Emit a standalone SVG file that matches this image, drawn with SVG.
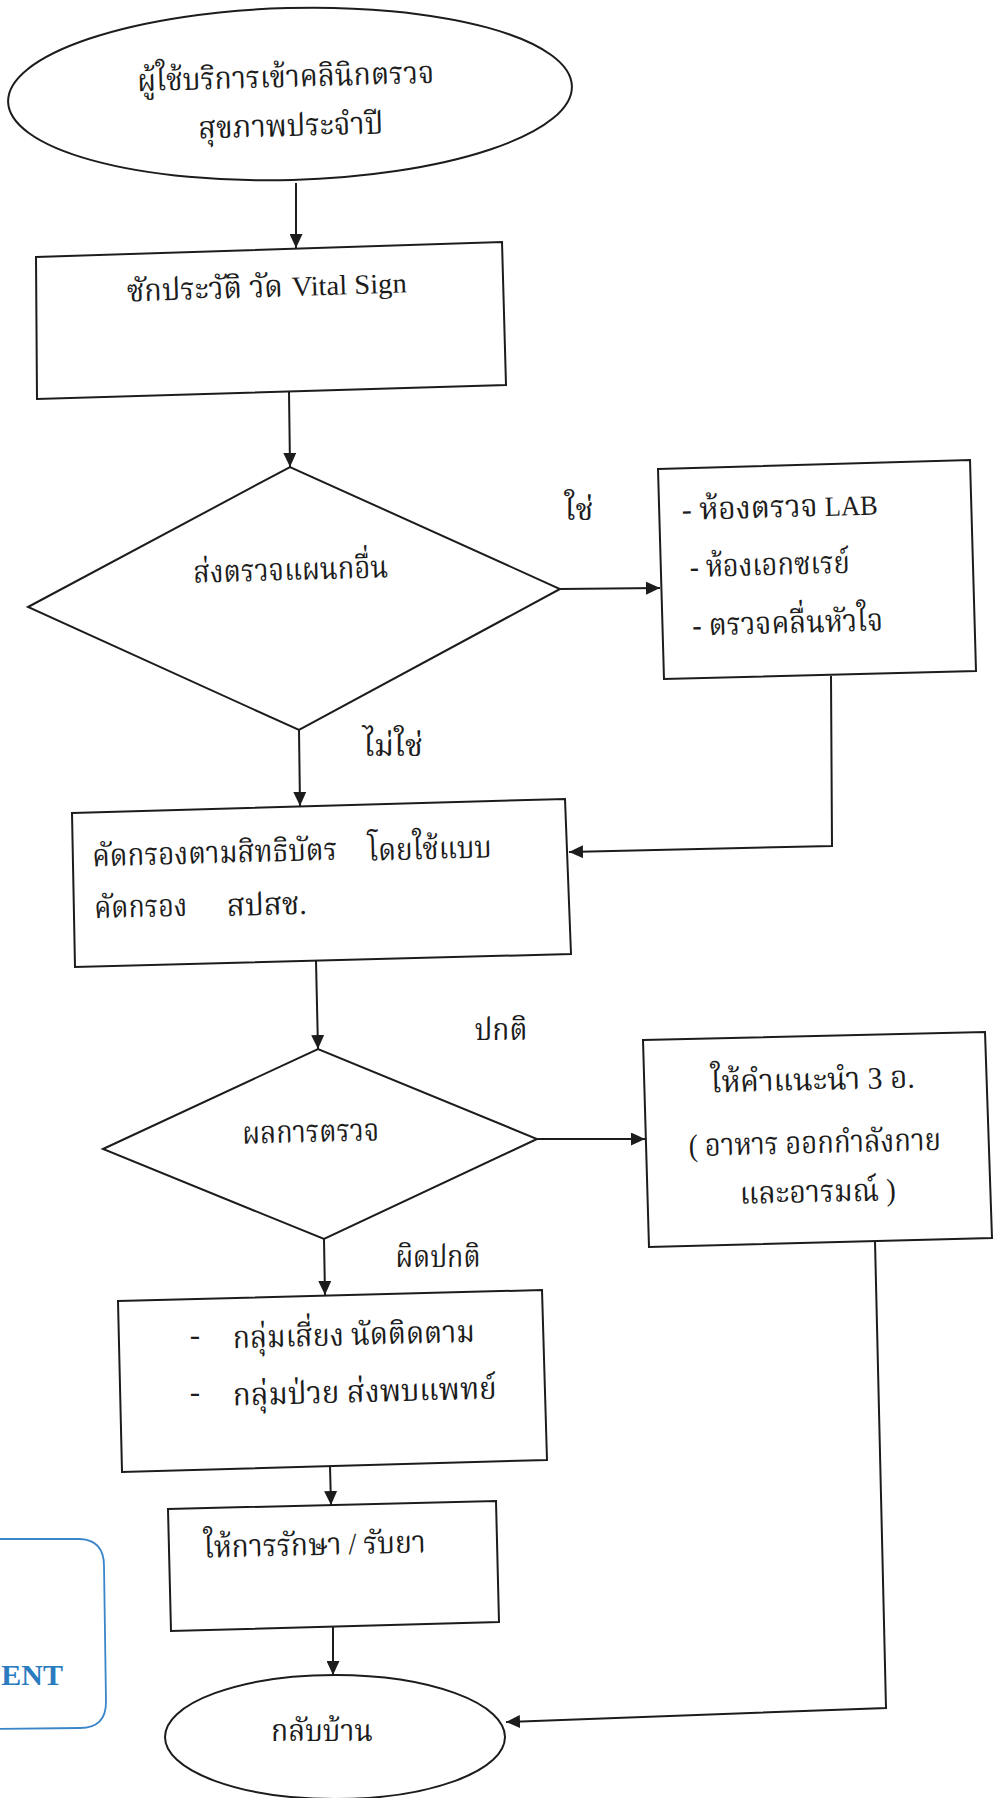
<svg xmlns="http://www.w3.org/2000/svg" width="1000" height="1798" viewBox="0 0 1000 1798">
<defs>
<style>
.n{fill:#fff;stroke:#1c1c1c;stroke-width:2}
.c{fill:none;stroke:#1c1c1c;stroke-width:2}
.t{font-family:"Liberation Serif","Norasi","Kinnari","Noto Serif Thai","Noto Sans Thai","Loma","Garuda",serif;font-size:31px;fill:#1c1c1c;text-anchor:middle}
.l{font-family:"Liberation Serif",serif;font-size:28px;fill:#1c1c1c}
.st{fill:none;stroke:#3a86c8;stroke-width:1.8}
.stt{font-family:"Liberation Serif",serif;font-weight:bold;font-size:30px;fill:#2b7bc0}
</style>
<marker id="ah" viewBox="0 0 14 13" markerWidth="14" markerHeight="13" refX="14" refY="6.5" orient="auto" markerUnits="userSpaceOnUse">
<path d="M0,0 L14,6.5 L0,13 z" fill="#1c1c1c"/>
</marker>
</defs>
<rect x="0" y="0" width="1000" height="1798" fill="#fff"/>

<g id="connectors">
<line class="c" x1="296" y1="183" x2="296" y2="248" marker-end="url(#ah)"/>
<line class="c" x1="289" y1="392" x2="290" y2="467" marker-end="url(#ah)"/>
<line class="c" x1="560" y1="589" x2="660" y2="588" marker-end="url(#ah)"/>
<polyline class="c" points="831,676 832,846 569,852" marker-end="url(#ah)"/>
<line class="c" x1="299" y1="730" x2="300" y2="806" marker-end="url(#ah)"/>
<line class="c" x1="316" y1="961" x2="318" y2="1049" marker-end="url(#ah)"/>
<line class="c" x1="537" y1="1139" x2="645" y2="1139" marker-end="url(#ah)"/>
<polyline class="c" points="875,1241 886,1708 506,1722" marker-end="url(#ah)"/>
<line class="c" x1="324" y1="1239" x2="325" y2="1295" marker-end="url(#ah)"/>
<line class="c" x1="330" y1="1466" x2="331" y2="1505" marker-end="url(#ah)"/>
<line class="c" x1="333" y1="1627" x2="333" y2="1675" marker-end="url(#ah)"/>
</g>

<g id="start">
<ellipse class="n" cx="290" cy="94" rx="282" ry="86" transform="rotate(-1.6 290 94)"/>
<text class="t" x="286" y="87" textLength="297" lengthAdjust="spacingAndGlyphs" transform="rotate(-1.6 286 87)">ผู้ใช้บริการเข้าคลินิกตรวจ</text>
<text class="t" x="291" y="136" textLength="185" lengthAdjust="spacingAndGlyphs" transform="rotate(-1.6 291 136)">สุขภาพประจำปี</text>
</g>

<g id="history">
<polygon class="n" points="36,257 502,242 506,385 37,399"/>
<text class="t" x="205" y="299" textLength="156" lengthAdjust="spacingAndGlyphs" transform="rotate(-1.8 205 299)">ซักประวัติ วัด</text>
<text class="l" x="292" y="296" textLength="115" lengthAdjust="spacingAndGlyphs" transform="rotate(-1.8 292 296)">Vital Sign</text>
</g>

<g id="refer">
<polygon class="n" points="28,607 290,467 560,589 299,730"/>
<text class="t" x="291" y="580" textLength="195" lengthAdjust="spacingAndGlyphs" transform="rotate(-1.6 291 580)">ส่งตรวจแผนกอื่น</text>
</g>

<g id="label-yes">
<text class="t" x="579" y="520">ใช่</text>
</g>
<g id="label-no">
<text class="t" x="393" y="756">ไม่ใช่</text>
</g>

<g id="depts">
<polygon class="n" points="658,469 970,460 976,671 664,679"/>
<text class="t" x="750" y="518" textLength="136" lengthAdjust="spacingAndGlyphs" transform="rotate(-1.6 750 518)">-  ห้องตรวจ</text>
<text class="l" x="825" y="516" textLength="53" lengthAdjust="spacingAndGlyphs" transform="rotate(-1.6 825 516)">LAB</text>
<text class="t" x="770" y="575" textLength="160" lengthAdjust="spacingAndGlyphs" transform="rotate(-1.6 770 575)">- ห้องเอกซเรย์</text>
<text class="t" x="788" y="633" textLength="191" lengthAdjust="spacingAndGlyphs" transform="rotate(-1.6 788 633)">- ตรวจคลื่นหัวใจ</text>
</g>

<g id="screen">
<polygon class="n" points="72,813 565,799 571,954 75,967"/>
<text class="t" x="215" y="863" textLength="245" lengthAdjust="spacingAndGlyphs" transform="rotate(-1.6 215 863)">คัดกรองตามสิทธิบัตร</text>
<text class="t" x="430" y="859" textLength="124" lengthAdjust="spacingAndGlyphs" transform="rotate(-1.6 430 859)">โดยใช้แบบ</text>
<text class="t" x="141" y="917" textLength="93" lengthAdjust="spacingAndGlyphs" transform="rotate(-1.6 141 917)">คัดกรอง</text>
<text class="t" x="267" y="915" textLength="80" lengthAdjust="spacingAndGlyphs" transform="rotate(-1.6 267 915)">สปสช.</text>
</g>

<g id="result">
<polygon class="n" points="103,1149 318,1049 537,1139 324,1239"/>
<text class="t" x="311" y="1142" textLength="137" lengthAdjust="spacingAndGlyphs" transform="rotate(-1.4 311 1142)">ผลการตรวจ</text>
</g>

<g id="label-normal">
<text class="t" x="501" y="1040" textLength="53" lengthAdjust="spacingAndGlyphs">ปกติ</text>
</g>
<g id="label-abnormal">
<text class="t" x="438" y="1267" textLength="85" lengthAdjust="spacingAndGlyphs">ผิดปกติ</text>
</g>

<g id="advice">
<polygon class="n" points="643,1040 985,1032 992,1238 649,1247"/>
<text class="t" x="813" y="1090" textLength="204" lengthAdjust="spacingAndGlyphs" transform="rotate(-1.4 813 1090)">ให้คำแนะนำ 3 อ.</text>
<text class="t" x="815" y="1153" textLength="252" lengthAdjust="spacingAndGlyphs" transform="rotate(-1.4 815 1153)">( อาหาร ออกกำลังกาย</text>
<text class="t" x="818" y="1202" textLength="156" lengthAdjust="spacingAndGlyphs" transform="rotate(-1.4 818 1202)">และอารมณ์ )</text>
</g>

<g id="groups">
<polygon class="n" points="118,1301 542,1290 547,1460 122,1472"/>
<text class="t" x="195" y="1345">-</text>
<text class="t" x="354" y="1345" textLength="242" lengthAdjust="spacingAndGlyphs" transform="rotate(-1.5 354 1345)">กลุ่มเสี่ยง นัดติดตาม</text>
<text class="t" x="195" y="1402">-</text>
<text class="t" x="365" y="1402" textLength="264" lengthAdjust="spacingAndGlyphs" transform="rotate(-1.5 365 1402)">กลุ่มป่วย ส่งพบแพทย์</text>
</g>

<g id="treat">
<polygon class="n" points="168,1509 496,1501 499,1622 171,1631"/>
<text class="t" x="315" y="1555" textLength="222" lengthAdjust="spacingAndGlyphs" transform="rotate(-1.4 315 1555)">ให้การรักษา / รับยา</text>
</g>

<g id="home">
<ellipse class="n" cx="335" cy="1737" rx="170" ry="62"/>
<text class="t" x="322" y="1741" textLength="102" lengthAdjust="spacingAndGlyphs">กลับบ้าน</text>
</g>

<g id="stamp">
<path class="st" d="M-20,1539 L80,1539 Q104,1540 104,1566 L106,1702 Q106,1728 80,1728 L-20,1729"/>
<text class="stt" x="63" y="1685" text-anchor="end">ENT</text>
</g>
</svg>
